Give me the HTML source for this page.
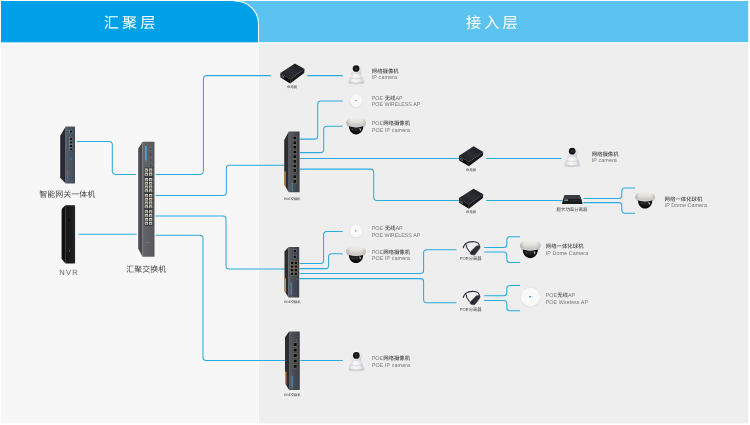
<!DOCTYPE html>
<html lang="zh-CN">
<head>
<meta charset="utf-8">
<title>网络拓扑图 - 汇聚层 / 接入层</title>
<style>
html,body{margin:0;padding:0;background:#ffffff;}
body{width:750px;height:425px;overflow:hidden;font-family:"Liberation Sans",sans-serif;}
svg{display:block;position:absolute;left:0;top:0;will-change:transform;}
text{font-family:"Liberation Sans",sans-serif;text-rendering:geometricPrecision;}
text.cjk{font-family:"Liberation Sans","Noto Sans CJK SC",sans-serif;}
</style>
</head>
<body>
<svg width="750" height="425" viewBox="0 0 750 425" font-family="'Liberation Sans', sans-serif">
<defs>
<linearGradient id="gfront" x1="0" x2="1" y1="0" y2="0"><stop offset="0" stop-color="#545e6a"/><stop offset="1" stop-color="#434c57"/></linearGradient>
<linearGradient id="nfront" x1="0" x2="1" y1="0" y2="0"><stop offset="0" stop-color="#161617"/><stop offset=".8" stop-color="#1e1e20"/><stop offset="1" stop-color="#2c2c2e"/></linearGradient>
<linearGradient id="cfront" x1="0" x2="1" y1="0" y2="0"><stop offset="0" stop-color="#64666b"/><stop offset="1" stop-color="#55575c"/></linearGradient>
<linearGradient id="pfront" x1="0" x2="1" y1="0" y2="0"><stop offset="0" stop-color="#5b5e64"/><stop offset=".35" stop-color="#4c4f55"/><stop offset="1" stop-color="#3c3f45"/></linearGradient>
<linearGradient id="atop" x1="0" x2="1" y1="1" y2="0"><stop offset="0" stop-color="#1a1c1f"/><stop offset=".5" stop-color="#2b2e33"/><stop offset="1" stop-color="#15171a"/></linearGradient>
<linearGradient id="camb" x1="0" x2="1" y1="0" y2="0"><stop offset="0" stop-color="#d3d3d7"/><stop offset=".35" stop-color="#f8f8fa"/><stop offset=".7" stop-color="#ececef"/><stop offset="1" stop-color="#cacace"/></linearGradient>
<radialGradient id="camh" cx=".4" cy=".35" r=".75"><stop offset="0" stop-color="#fbfbfc"/><stop offset=".68" stop-color="#e9e9ec"/><stop offset="1" stop-color="#bebec4"/></radialGradient>
<linearGradient id="domw" x1="0" x2="0" y1="0" y2="1"><stop offset="0" stop-color="#efeeea"/><stop offset=".45" stop-color="#e2e1dc"/><stop offset="1" stop-color="#bcbbb6"/></linearGradient>
<linearGradient id="domx" x1="0" x2="1" y1="0" y2="0"><stop offset="0" stop-color="#555" stop-opacity=".28"/><stop offset=".22" stop-color="#555" stop-opacity="0"/><stop offset=".8" stop-color="#555" stop-opacity="0"/><stop offset="1" stop-color="#555" stop-opacity=".22"/></linearGradient>
<radialGradient id="domb" cx=".5" cy=".3" r=".8"><stop offset="0" stop-color="#2a2c30"/><stop offset=".6" stop-color="#0c0d0f"/><stop offset="1" stop-color="#000"/></radialGradient>
<radialGradient id="apr" cx=".5" cy=".5" r=".5"><stop offset="0" stop-color="#d4d4d3"/><stop offset=".88" stop-color="#d6d6d5"/><stop offset="1" stop-color="#e6e6e5"/></radialGradient>
<radialGradient id="apg" cx=".5" cy=".45" r=".6"><stop offset="0" stop-color="#fbfbfa"/><stop offset=".8" stop-color="#f7f7f6"/><stop offset="1" stop-color="#ececeb"/></radialGradient>
</defs>
<rect x="1" y="1" width="747.2" height="41.2" fill="#5cc3f0"/>
<rect x="1" y="43.6" width="257.5" height="379.8" fill="#f7f7f7"/>
<rect x="259" y="43.6" width="489.2" height="379.8" fill="#eeeeee"/>
<path d="M1,1 H235.5 A23,23 0 0 1 258.5,24 V42.2 H1 Z" fill="#00a0e9"/>
<path d="M234,1 H235.5 A23,23 0 0 1 258.5,24 V423.5" fill="none" stroke="#fff" stroke-width="1.1"/>
<g role="img" aria-label="汇聚层"><title>汇聚层</title><text class="cjk" transform="translate(103.76 27.53) scale(.1)" font-size="152" fill="#ffffff" x="0 182 364" y="0">汇聚层</text></g>
<g role="img" aria-label="接入层"><title>接入层</title><text class="cjk" transform="translate(466.07 27.70) scale(.1)" font-size="152" fill="#ffffff" x="0 182 364" y="0">接入层</text></g>
<g fill="none" stroke="#29abe2" stroke-width="1.05"><path d="M76.90,141.40 L109.10,141.40 A3.20,3.20 0 0 1 112.30,144.60 L112.30,171.20 A3.20,3.20 0 0 0 115.50,174.40 L135.90,174.40"/><path d="M78.40,234.20 L136.60,234.20"/><path d="M155.60,174.40 L199.90,174.40 A3.50,3.50 0 0 0 203.40,170.90 L203.40,79.10 A3.50,3.50 0 0 1 206.90,75.60 L270.70,75.60"/><path d="M155.60,195.50 L223.10,195.50 A3.20,3.20 0 0 0 226.30,192.30 L226.30,168.40 A3.20,3.20 0 0 1 229.50,165.20 L284.20,165.20"/><path d="M155.60,215.90 L222.80,215.90 A3.20,3.20 0 0 1 226.00,219.10 L226.00,265.70 A3.20,3.20 0 0 0 229.20,268.90 L284.60,268.90"/><path d="M155.60,235.30 L199.80,235.30 A3.20,3.20 0 0 1 203.00,238.50 L203.00,357.20 A3.20,3.20 0 0 0 206.20,360.40 L285.00,360.40"/><path d="M307.20,75.60 L342.80,75.60"/><path d="M299.80,139.10 L314.50,139.10 A3.20,3.20 0 0 0 317.70,135.90 L317.70,104.10 A3.20,3.20 0 0 1 320.90,100.90 L342.70,100.90"/><path d="M299.80,152.60 L320.50,152.60 A3.20,3.20 0 0 0 323.70,149.40 L323.70,129.50 A3.20,3.20 0 0 1 326.90,126.30 L342.70,126.30"/><path d="M299.80,158.40 L458.80,158.40"/><path d="M486.20,158.50 L561.50,158.50"/><path d="M299.80,169.10 L370.50,169.10 A3.20,3.20 0 0 1 373.70,172.30 L373.70,197.30 A3.20,3.20 0 0 0 376.90,200.50 L458.80,200.50"/><path d="M486.20,200.50 L562.20,200.50"/><path d="M583.40,198.40 L618.80,198.40 A3.00,3.00 0 0 0 621.80,195.40 L621.80,191.00 A3.00,3.00 0 0 1 624.80,188.00 L635.00,188.00"/><path d="M583.40,202.60 L618.80,202.60 A3.00,3.00 0 0 1 621.80,205.60 L621.80,210.30 A3.00,3.00 0 0 0 624.80,213.30 L635.00,213.30"/><path d="M299.60,263.40 L320.40,263.40 A3.20,3.20 0 0 0 323.60,260.20 L323.60,234.70 A3.20,3.20 0 0 1 326.80,231.50 L342.60,231.50"/><path d="M299.60,268.60 L325.40,268.60 A3.20,3.20 0 0 0 328.60,265.40 L328.60,257.00 A3.20,3.20 0 0 1 331.80,253.80 L342.60,253.80"/><path d="M299.60,273.40 L420.40,273.40 A3.20,3.20 0 0 0 423.60,270.20 L423.60,253.00 A3.20,3.20 0 0 1 426.80,249.80 L456.50,249.80"/><path d="M299.60,278.60 L420.40,278.60 A3.20,3.20 0 0 1 423.60,281.80 L423.60,299.50 A3.20,3.20 0 0 0 426.80,302.70 L456.50,302.70"/><path d="M484.10,247.40 L503.80,247.40 A3.00,3.00 0 0 0 506.80,244.40 L506.80,239.80 A3.00,3.00 0 0 1 509.80,236.80 L520.10,236.80"/><path d="M484.10,252.00 L503.80,252.00 A3.00,3.00 0 0 1 506.80,255.00 L506.80,259.40 A3.00,3.00 0 0 0 509.80,262.40 L520.10,262.40"/><path d="M484.10,295.80 L503.80,295.80 A3.00,3.00 0 0 0 506.80,292.80 L506.80,288.50 A3.00,3.00 0 0 1 509.80,285.50 L520.10,285.50"/><path d="M484.10,300.50 L503.80,300.50 A3.00,3.00 0 0 1 506.80,303.50 L506.80,307.70 A3.00,3.00 0 0 0 509.80,310.70 L520.10,310.70"/><path d="M300.20,360.40 L342.80,360.40"/></g>
<polygon points="65.7,126.6 60.2,135.8 60.2,177.7 65.7,183.4" fill="#272b31"/><rect x="65.6" y="126.6" width="9.4" height="56.8" rx=".6" fill="url(#gfront)"/><rect x="69.75" y="130.15" width="2.90" height="2.70" fill="#111316" stroke="#9299a3" stroke-width=".45"/><rect x="69.75" y="137.65" width="2.90" height="2.70" fill="#111316" stroke="#9299a3" stroke-width=".45"/><rect x="69.75" y="141.15" width="2.90" height="2.70" fill="#111316" stroke="#9299a3" stroke-width=".45"/><rect x="69.75" y="144.65" width="2.90" height="2.70" fill="#111316" stroke="#9299a3" stroke-width=".45"/><rect x="69.75" y="148.05" width="2.90" height="2.70" fill="#111316" stroke="#9299a3" stroke-width=".45"/><rect x="70.1" y="158.4" width="2.2" height="1.1" fill="#1c7fe0"/><rect x="67" y="170" width="1" height="10.5" fill="#3b7cc0" opacity=".75"/>
<path d="M65.4,205.3 L62.6,208 Q61.6,209 61.6,210.5 V258.8 L65.4,263.6 Z" fill="#101011"/><rect x="65.3" y="205.3" width="9.8" height="58.3" rx=".8" fill="url(#nfront)"/><circle cx="69.2" cy="220" r=".8" fill="#000"/><rect x="69" y="250" width=".6" height="1.6" fill="#999"/>
<polygon points="142.5,141.8 138.2,148.8 138.2,248.5 142.5,256.7" fill="#494b4f"/><rect x="142.4" y="141.8" width="12.1" height="114.9" rx=".5" fill="url(#cfront)"/><rect x="145" y="146" width="1.7" height="14.4" fill="#3ba7e0"/><rect x="149.2" y="147.2" width="2.7" height="3.3" fill="#46484d" stroke="#7c7e83" stroke-width=".4"/><rect x="149.2" y="152.9" width="2.7" height="3.3" fill="#46484d" stroke="#7c7e83" stroke-width=".4"/><rect x="149.2" y="158.4" width="2.7" height="3.3" fill="#46484d" stroke="#7c7e83" stroke-width=".4"/><rect x="149.2" y="163.8" width="2.7" height="3.3" fill="#46484d" stroke="#7c7e83" stroke-width=".4"/><rect x="144.2" y="167.6" width="8.6" height="9.0" fill="#26282b"/><rect x="144.75" y="168.41" width="3.3" height="3.28" fill="#d3cfc2"/><rect x="145.65" y="169.64" width="1.5" height="1.64" fill="#4a4a46"/><rect x="148.95" y="168.41" width="3.3" height="3.28" fill="#d3cfc2"/><rect x="149.85" y="169.64" width="1.5" height="1.64" fill="#4a4a46"/><rect x="144.75" y="172.51" width="3.3" height="3.28" fill="#d3cfc2"/><rect x="145.65" y="173.74" width="1.5" height="1.64" fill="#4a4a46"/><rect x="148.95" y="172.51" width="3.3" height="3.28" fill="#d3cfc2"/><rect x="149.85" y="173.74" width="1.5" height="1.64" fill="#4a4a46"/><rect x="144.2" y="177.2" width="8.6" height="15.8" fill="#26282b"/><rect x="144.75" y="177.97" width="3.3" height="3.00" fill="#d3cfc2"/><rect x="145.65" y="179.10" width="1.5" height="1.50" fill="#4a4a46"/><rect x="148.95" y="177.97" width="3.3" height="3.00" fill="#d3cfc2"/><rect x="149.85" y="179.10" width="1.5" height="1.50" fill="#4a4a46"/><rect x="144.75" y="181.72" width="3.3" height="3.00" fill="#d3cfc2"/><rect x="145.65" y="182.85" width="1.5" height="1.50" fill="#4a4a46"/><rect x="148.95" y="181.72" width="3.3" height="3.00" fill="#d3cfc2"/><rect x="149.85" y="182.85" width="1.5" height="1.50" fill="#4a4a46"/><rect x="144.75" y="185.47" width="3.3" height="3.00" fill="#d3cfc2"/><rect x="145.65" y="186.60" width="1.5" height="1.50" fill="#4a4a46"/><rect x="148.95" y="185.47" width="3.3" height="3.00" fill="#d3cfc2"/><rect x="149.85" y="186.60" width="1.5" height="1.50" fill="#4a4a46"/><rect x="144.75" y="189.22" width="3.3" height="3.00" fill="#d3cfc2"/><rect x="145.65" y="190.35" width="1.5" height="1.50" fill="#4a4a46"/><rect x="148.95" y="189.22" width="3.3" height="3.00" fill="#d3cfc2"/><rect x="149.85" y="190.35" width="1.5" height="1.50" fill="#4a4a46"/><rect x="144.2" y="193.2" width="8.6" height="15.8" fill="#26282b"/><rect x="144.75" y="193.97" width="3.3" height="3.00" fill="#d3cfc2"/><rect x="145.65" y="195.10" width="1.5" height="1.50" fill="#4a4a46"/><rect x="148.95" y="193.97" width="3.3" height="3.00" fill="#d3cfc2"/><rect x="149.85" y="195.10" width="1.5" height="1.50" fill="#4a4a46"/><rect x="144.75" y="197.72" width="3.3" height="3.00" fill="#d3cfc2"/><rect x="145.65" y="198.85" width="1.5" height="1.50" fill="#4a4a46"/><rect x="148.95" y="197.72" width="3.3" height="3.00" fill="#d3cfc2"/><rect x="149.85" y="198.85" width="1.5" height="1.50" fill="#4a4a46"/><rect x="144.75" y="201.47" width="3.3" height="3.00" fill="#d3cfc2"/><rect x="145.65" y="202.60" width="1.5" height="1.50" fill="#4a4a46"/><rect x="148.95" y="201.47" width="3.3" height="3.00" fill="#d3cfc2"/><rect x="149.85" y="202.60" width="1.5" height="1.50" fill="#4a4a46"/><rect x="144.75" y="205.22" width="3.3" height="3.00" fill="#d3cfc2"/><rect x="145.65" y="206.35" width="1.5" height="1.50" fill="#4a4a46"/><rect x="148.95" y="205.22" width="3.3" height="3.00" fill="#d3cfc2"/><rect x="149.85" y="206.35" width="1.5" height="1.50" fill="#4a4a46"/><rect x="144.2" y="209.4" width="8.6" height="16.2" fill="#26282b"/><rect x="144.75" y="210.19" width="3.3" height="3.08" fill="#d3cfc2"/><rect x="145.65" y="211.34" width="1.5" height="1.54" fill="#4a4a46"/><rect x="148.95" y="210.19" width="3.3" height="3.08" fill="#d3cfc2"/><rect x="149.85" y="211.34" width="1.5" height="1.54" fill="#4a4a46"/><rect x="144.75" y="214.03" width="3.3" height="3.08" fill="#d3cfc2"/><rect x="145.65" y="215.19" width="1.5" height="1.54" fill="#4a4a46"/><rect x="148.95" y="214.03" width="3.3" height="3.08" fill="#d3cfc2"/><rect x="149.85" y="215.19" width="1.5" height="1.54" fill="#4a4a46"/><rect x="144.75" y="217.89" width="3.3" height="3.08" fill="#d3cfc2"/><rect x="145.65" y="219.04" width="1.5" height="1.54" fill="#4a4a46"/><rect x="148.95" y="217.89" width="3.3" height="3.08" fill="#d3cfc2"/><rect x="149.85" y="219.04" width="1.5" height="1.54" fill="#4a4a46"/><rect x="144.75" y="221.73" width="3.3" height="3.08" fill="#d3cfc2"/><rect x="145.65" y="222.89" width="1.5" height="1.54" fill="#4a4a46"/><rect x="148.95" y="221.73" width="3.3" height="3.08" fill="#d3cfc2"/><rect x="149.85" y="222.89" width="1.5" height="1.54" fill="#4a4a46"/><rect x="146" y="242.5" width="5" height=".5" fill="#8a9098" opacity=".6"/>
<polygon points="288.8,131.6 284.2,140.0 284.2,184.4 288.8,192.2" fill="#2c2d30"/><polygon points="284.4,171.4 285.6,171.4 285.6,186.8 284.4,184.7" fill="#dda045"/><rect x="288.7" y="131.6" width="10.9" height="60.6" rx=".5" fill="url(#pfront)"/><rect x="292.95" y="136.20" width="3.70" height="3.60" fill="#857f66"/><rect x="293.40" y="136.65" width="2.80" height="2.70" fill="#0b0b0c"/><rect x="292.95" y="140.90" width="3.70" height="3.60" fill="#857f66"/><rect x="293.40" y="141.35" width="2.80" height="2.70" fill="#0b0b0c"/><rect x="292.95" y="145.40" width="3.70" height="3.60" fill="#857f66"/><rect x="293.40" y="145.85" width="2.80" height="2.70" fill="#0b0b0c"/><rect x="292.95" y="150.30" width="3.70" height="3.60" fill="#857f66"/><rect x="293.40" y="150.75" width="2.80" height="2.70" fill="#0b0b0c"/><rect x="292.95" y="154.80" width="3.70" height="3.60" fill="#857f66"/><rect x="293.40" y="155.25" width="2.80" height="2.70" fill="#0b0b0c"/><rect x="292.95" y="159.60" width="3.70" height="3.60" fill="#857f66"/><rect x="293.40" y="160.05" width="2.80" height="2.70" fill="#0b0b0c"/><rect x="292.95" y="164.20" width="3.70" height="3.60" fill="#857f66"/><rect x="293.40" y="164.65" width="2.80" height="2.70" fill="#0b0b0c"/><rect x="292.95" y="168.70" width="3.70" height="3.60" fill="#857f66"/><rect x="293.40" y="169.15" width="2.80" height="2.70" fill="#0b0b0c"/><rect x="292.95" y="174.80" width="3.70" height="3.60" fill="#857f66"/><rect x="293.40" y="175.25" width="2.80" height="2.70" fill="#0b0b0c"/><rect x="292.95" y="179.60" width="3.70" height="3.60" fill="#857f66"/><rect x="293.40" y="180.05" width="2.80" height="2.70" fill="#0b0b0c"/><rect x="291.6" y="182.6" width="1.2" height="8" fill="#3d8fc8" opacity=".85"/><circle cx="296.1" cy="185.3" r=".4" fill="#222"/>
<polygon points="288.6,247.1 284.5,251.6 284.5,291.0 288.6,297.5" fill="#2c2d30"/><polygon points="284.7,278.3 285.9,278.3 285.9,293.2 284.7,291.3" fill="#dda045"/><rect x="288.5" y="247.1" width="10.7" height="50.4" rx=".5" fill="url(#pfront)"/><rect x="293.3" y="249.5" width="3" height="3" fill="#121315" stroke="#8b8f96" stroke-width=".4"/><rect x="293.3" y="255.2" width="3" height="3" fill="#121315" stroke="#8b8f96" stroke-width=".4"/><rect x="290.40" y="261.40" width="3.40" height="3.20" fill="#857f66"/><rect x="290.85" y="261.85" width="2.50" height="2.30" fill="#0b0b0c"/><rect x="294.20" y="261.40" width="3.40" height="3.20" fill="#857f66"/><rect x="294.65" y="261.85" width="2.50" height="2.30" fill="#0b0b0c"/><rect x="290.40" y="264.90" width="3.40" height="3.20" fill="#857f66"/><rect x="290.85" y="265.35" width="2.50" height="2.30" fill="#0b0b0c"/><rect x="294.20" y="264.90" width="3.40" height="3.20" fill="#857f66"/><rect x="294.65" y="265.35" width="2.50" height="2.30" fill="#0b0b0c"/><rect x="290.40" y="268.50" width="3.40" height="3.20" fill="#857f66"/><rect x="290.85" y="268.95" width="2.50" height="2.30" fill="#0b0b0c"/><rect x="294.20" y="268.50" width="3.40" height="3.20" fill="#857f66"/><rect x="294.65" y="268.95" width="2.50" height="2.30" fill="#0b0b0c"/><rect x="290.40" y="272.20" width="3.40" height="3.20" fill="#857f66"/><rect x="290.85" y="272.65" width="2.50" height="2.30" fill="#0b0b0c"/><rect x="294.20" y="272.20" width="3.40" height="3.20" fill="#857f66"/><rect x="294.65" y="272.65" width="2.50" height="2.30" fill="#0b0b0c"/><circle cx="297" cy="279" r=".4" fill="#ddd"/><rect x="290.5" y="282.8" width="1.4" height="12.6" fill="#3d8fc8" opacity=".85"/>
<polygon points="289.1,331.6 285.0,337.2 285.0,383.2 289.1,389.9" fill="#2c2d30"/><polygon points="285.2,371.7 286.4,371.7 286.4,385.5 285.2,383.5" fill="#dda045"/><rect x="289.0" y="331.6" width="10.8" height="58.3" rx=".5" fill="url(#pfront)"/><rect x="293.20" y="342.55" width="4.00" height="3.90" fill="#857f66"/><rect x="293.65" y="343.00" width="3.10" height="3.00" fill="#0b0b0c"/><rect x="293.20" y="348.15" width="4.00" height="3.90" fill="#857f66"/><rect x="293.65" y="348.60" width="3.10" height="3.00" fill="#0b0b0c"/><rect x="293.20" y="353.65" width="4.00" height="3.90" fill="#857f66"/><rect x="293.65" y="354.10" width="3.10" height="3.00" fill="#0b0b0c"/><rect x="293.20" y="359.05" width="4.00" height="3.90" fill="#857f66"/><rect x="293.65" y="359.50" width="3.10" height="3.00" fill="#0b0b0c"/><rect x="293.20" y="364.35" width="4.00" height="3.90" fill="#857f66"/><rect x="293.65" y="364.80" width="3.10" height="3.00" fill="#0b0b0c"/><circle cx="296.5" cy="339.9" r=".4" fill="#ddd"/><rect x="291.4" y="375.8" width="1.4" height="11.5" fill="#3d8fc8" opacity=".85"/>
<polygon points="280.3,72.9 294.9,63.5 304.6,69.1 290.2,79.3" fill="url(#atop)"/><polygon points="280.3,72.9 290.2,79.3 290.2,83.5 280.5,77.6" fill="#0c0d0f"/><polygon points="290.2,79.3 304.6,69.1 304.2,72.9 290.2,83.5" fill="#16181b"/><polygon points="281.7,75.1 284.2,76.7 284.2,78.5 281.7,77.0" fill="#8d9399"/><polygon points="282.2,75.9 283.7,76.9 283.7,77.9 282.2,76.9" fill="#1b1d20"/>
<polygon points="459.0,155.7 473.6,146.3 483.3,151.9 468.9,162.1" fill="url(#atop)"/><polygon points="459.0,155.7 468.9,162.1 468.9,166.3 459.2,160.4" fill="#0c0d0f"/><polygon points="468.9,162.1 483.3,151.9 482.9,155.7 468.9,166.3" fill="#16181b"/><polygon points="460.4,157.9 462.9,159.5 462.9,161.3 460.4,159.8" fill="#8d9399"/><polygon points="460.9,158.7 462.4,159.7 462.4,160.7 460.9,159.7" fill="#1b1d20"/>
<polygon points="459.0,198.1 473.6,188.7 483.3,194.3 468.9,204.5" fill="url(#atop)"/><polygon points="459.0,198.1 468.9,204.5 468.9,208.7 459.2,202.8" fill="#0c0d0f"/><polygon points="468.9,204.5 483.3,194.3 482.9,198.1 468.9,208.7" fill="#16181b"/><polygon points="460.4,200.3 462.9,201.9 462.9,203.7 460.4,202.2" fill="#8d9399"/><polygon points="460.9,201.1 462.4,202.1 462.4,203.1 460.9,202.1" fill="#1b1d20"/>
<g transform="translate(356.20 68.70)"><ellipse cx="0" cy="14.5" rx="8.4" ry="1.2" fill="#000" opacity=".10"/><path d="M-4.6,3 L-4.9,8 L4.9,8 L4.6,3 Z" fill="url(#camb)"/><path d="M-6.5,9 C-6.5,7.6 -5.4,6.9 -3.8,6.9 L3.8,6.9 C5.4,6.9 6.5,7.6 6.5,9 C6.9,10.6 7.8,12.4 7.7,13.7 Q0,15.6 -7.7,13.7 C-7.8,12.4 -6.9,10.6 -6.5,9 Z" fill="url(#camb)"/><path d="M-6.6,9.3 Q0,10.9 6.6,9.3" fill="none" stroke="#bfbfc6" stroke-width=".5"/><path d="M-7.6,13.5 Q0,15.5 7.6,13.5" fill="none" stroke="#b5b5bc" stroke-width=".6"/><circle cx="0" cy="0" r="5.5" fill="url(#camh)"/><circle cx="-.1" cy="-.2" r="3.35" fill="#141416"/><circle cx="-.1" cy="-.2" r="1.3" fill="#30333a"/></g>
<g transform="translate(572.30 151.40)"><ellipse cx="0" cy="14.5" rx="8.4" ry="1.2" fill="#000" opacity=".10"/><path d="M-4.6,3 L-4.9,8 L4.9,8 L4.6,3 Z" fill="url(#camb)"/><path d="M-6.5,9 C-6.5,7.6 -5.4,6.9 -3.8,6.9 L3.8,6.9 C5.4,6.9 6.5,7.6 6.5,9 C6.9,10.6 7.8,12.4 7.7,13.7 Q0,15.6 -7.7,13.7 C-7.8,12.4 -6.9,10.6 -6.5,9 Z" fill="url(#camb)"/><path d="M-6.6,9.3 Q0,10.9 6.6,9.3" fill="none" stroke="#bfbfc6" stroke-width=".5"/><path d="M-7.6,13.5 Q0,15.5 7.6,13.5" fill="none" stroke="#b5b5bc" stroke-width=".6"/><circle cx="0" cy="0" r="5.5" fill="url(#camh)"/><circle cx="-.1" cy="-.2" r="3.35" fill="#141416"/><circle cx="-.1" cy="-.2" r="1.3" fill="#30333a"/></g>
<g transform="translate(356.40 355.60)"><ellipse cx="0" cy="14.5" rx="8.4" ry="1.2" fill="#000" opacity=".10"/><path d="M-4.6,3 L-4.9,8 L4.9,8 L4.6,3 Z" fill="url(#camb)"/><path d="M-6.5,9 C-6.5,7.6 -5.4,6.9 -3.8,6.9 L3.8,6.9 C5.4,6.9 6.5,7.6 6.5,9 C6.9,10.6 7.8,12.4 7.7,13.7 Q0,15.6 -7.7,13.7 C-7.8,12.4 -6.9,10.6 -6.5,9 Z" fill="url(#camb)"/><path d="M-6.6,9.3 Q0,10.9 6.6,9.3" fill="none" stroke="#bfbfc6" stroke-width=".5"/><path d="M-7.6,13.5 Q0,15.5 7.6,13.5" fill="none" stroke="#b5b5bc" stroke-width=".6"/><circle cx="0" cy="0" r="5.5" fill="url(#camh)"/><circle cx="-.1" cy="-.2" r="3.35" fill="#141416"/><circle cx="-.1" cy="-.2" r="1.3" fill="#30333a"/></g>
<g transform="translate(346.30 117.60) scale(1.000)"><path d="M0,4.7 C0,1.7 4.6,0 9.85,0 S19.7,1.7 19.7,4.7 C19.7,7.3 18.5,9 16.7,9.5 L3,9.5 C1.2,9 0,7.3 0,4.7 Z" fill="url(#domw)"/><path d="M0,4.7 C0,1.7 4.6,0 9.85,0 S19.7,1.7 19.7,4.7 C19.7,7.3 18.5,9 16.7,9.5 L3,9.5 C1.2,9 0,7.3 0,4.7 Z" fill="url(#domx)"/><path d="M2.7,8.7 C2.7,13.4 5.8,16.9 9.85,16.9 C13.9,16.9 17,13.4 17,8.7 Q9.85,10.9 2.7,8.7 Z" fill="url(#domb)"/><path d="M13.1,10.3 Q15.3,10.6 14.3,13.4 Q13.2,12.2 13.1,10.3 Z" fill="#fff" opacity=".8"/><path d="M5.4,11 Q6.4,10.8 6.7,12.6 Q5.6,12.4 5.4,11 Z" fill="#fff" opacity=".45"/><path d="M1,7.6 Q9.85,10.6 18.7,7.6" fill="none" stroke="#fff" stroke-width=".5" opacity=".45"/></g>
<g transform="translate(346.20 246.20) scale(1.000)"><path d="M0,4.7 C0,1.7 4.6,0 9.85,0 S19.7,1.7 19.7,4.7 C19.7,7.3 18.5,9 16.7,9.5 L3,9.5 C1.2,9 0,7.3 0,4.7 Z" fill="url(#domw)"/><path d="M0,4.7 C0,1.7 4.6,0 9.85,0 S19.7,1.7 19.7,4.7 C19.7,7.3 18.5,9 16.7,9.5 L3,9.5 C1.2,9 0,7.3 0,4.7 Z" fill="url(#domx)"/><path d="M2.7,8.7 C2.7,13.4 5.8,16.9 9.85,16.9 C13.9,16.9 17,13.4 17,8.7 Q9.85,10.9 2.7,8.7 Z" fill="url(#domb)"/><path d="M13.1,10.3 Q15.3,10.6 14.3,13.4 Q13.2,12.2 13.1,10.3 Z" fill="#fff" opacity=".8"/><path d="M5.4,11 Q6.4,10.8 6.7,12.6 Q5.6,12.4 5.4,11 Z" fill="#fff" opacity=".45"/><path d="M1,7.6 Q9.85,10.6 18.7,7.6" fill="none" stroke="#fff" stroke-width=".5" opacity=".45"/></g>
<g transform="translate(635.30 191.70) scale(1.000)"><path d="M0,4.7 C0,1.7 4.6,0 9.85,0 S19.7,1.7 19.7,4.7 C19.7,7.3 18.5,9 16.7,9.5 L3,9.5 C1.2,9 0,7.3 0,4.7 Z" fill="url(#domw)"/><path d="M0,4.7 C0,1.7 4.6,0 9.85,0 S19.7,1.7 19.7,4.7 C19.7,7.3 18.5,9 16.7,9.5 L3,9.5 C1.2,9 0,7.3 0,4.7 Z" fill="url(#domx)"/><path d="M2.7,8.7 C2.7,13.4 5.8,16.9 9.85,16.9 C13.9,16.9 17,13.4 17,8.7 Q9.85,10.9 2.7,8.7 Z" fill="url(#domb)"/><path d="M13.1,10.3 Q15.3,10.6 14.3,13.4 Q13.2,12.2 13.1,10.3 Z" fill="#fff" opacity=".8"/><path d="M5.4,11 Q6.4,10.8 6.7,12.6 Q5.6,12.4 5.4,11 Z" fill="#fff" opacity=".45"/><path d="M1,7.6 Q9.85,10.6 18.7,7.6" fill="none" stroke="#fff" stroke-width=".5" opacity=".45"/></g>
<g transform="translate(519.90 240.30) scale(1.055)"><path d="M0,4.7 C0,1.7 4.6,0 9.85,0 S19.7,1.7 19.7,4.7 C19.7,7.3 18.5,9 16.7,9.5 L3,9.5 C1.2,9 0,7.3 0,4.7 Z" fill="url(#domw)"/><path d="M0,4.7 C0,1.7 4.6,0 9.85,0 S19.7,1.7 19.7,4.7 C19.7,7.3 18.5,9 16.7,9.5 L3,9.5 C1.2,9 0,7.3 0,4.7 Z" fill="url(#domx)"/><path d="M2.7,8.7 C2.7,13.4 5.8,16.9 9.85,16.9 C13.9,16.9 17,13.4 17,8.7 Q9.85,10.9 2.7,8.7 Z" fill="url(#domb)"/><path d="M13.1,10.3 Q15.3,10.6 14.3,13.4 Q13.2,12.2 13.1,10.3 Z" fill="#fff" opacity=".8"/><path d="M5.4,11 Q6.4,10.8 6.7,12.6 Q5.6,12.4 5.4,11 Z" fill="#fff" opacity=".45"/><path d="M1,7.6 Q9.85,10.6 18.7,7.6" fill="none" stroke="#fff" stroke-width=".5" opacity=".45"/></g>
<circle cx="356.1" cy="100.9" r="7.20" fill="url(#apr)"/><circle cx="356.2" cy="100.7" r="6.60" fill="url(#apg)"/><ellipse cx="355.9" cy="100.3" rx="0.78" ry="0.65" fill="#2a78b4"/><rect x="356.9" y="100.2" width="1.5" height=".35" fill="#c9cccf"/>
<circle cx="356.0" cy="231.4" r="7.20" fill="url(#apr)"/><circle cx="356.1" cy="231.2" r="6.60" fill="url(#apg)"/><ellipse cx="355.8" cy="230.8" rx="0.78" ry="0.65" fill="#2a78b4"/><rect x="356.8" y="230.6" width="1.5" height=".35" fill="#c9cccf"/>
<circle cx="530.3" cy="297.4" r="10.30" fill="url(#apr)"/><circle cx="530.4" cy="297.2" r="9.70" fill="url(#apg)"/><ellipse cx="530.1" cy="296.8" rx="1.00" ry="0.80" fill="#2a78b4"/><rect x="531.1" y="296.6" width="2.2" height=".35" fill="#c9cccf"/>
<polygon points="564.5,194.9 579.7,194.9 581.4,199 563.1,199" fill="#383b3f"/><polygon points="563.1,199 581.4,199 582.6,203.9 561.9,203.9" fill="#1b1c1e"/><rect x="564.3" y="199.4" width="3.8" height="1.5" fill="#8d9196"/><rect x="570" y="200.3" width="9.5" height=".9" fill="#2c2e31"/>
<g transform="translate(0.0 0.5)"><path d="M479.3,245.4 C479.6,243.2 477.6,241.5 474.6,241.2 C471.4,240.9 467.8,241.5 465.6,243.1 C464.4,244.1 463.8,245.4 463.4,246.8" fill="none" stroke="#2b2e33" stroke-width="1.1"/><path d="M465.7,243.2 C466,245.6 467.4,248.8 469.6,251.4" fill="none" stroke="#2b2e33" stroke-width="1.1"/><path d="M463,245.6 L464.2,246 L463.8,247.8 L462.7,247.4 Z" fill="#3a3d42"/><path d="M470.2,251.6 L476.2,245.7 Q476.8,245.2 477.6,245.2 L479.2,245.2 Q480,245.3 480,246.2 L479.8,247.8 L474.9,254.2 Q474.4,254.7 473.6,254.5 L470.9,253.9 Q469.6,253.2 470.2,251.6 Z" fill="#2c3036" stroke="#2c3036" stroke-width=".5" stroke-linejoin="round"/><rect x="471.4" y="251.6" width="1.4" height="1.2" fill="#0d0e10" transform="rotate(-40 472 252)"/></g>
<g transform="translate(0.0 50.3)"><path d="M479.3,245.4 C479.6,243.2 477.6,241.5 474.6,241.2 C471.4,240.9 467.8,241.5 465.6,243.1 C464.4,244.1 463.8,245.4 463.4,246.8" fill="none" stroke="#2b2e33" stroke-width="1.1"/><path d="M465.7,243.2 C466,245.6 467.4,248.8 469.6,251.4" fill="none" stroke="#2b2e33" stroke-width="1.1"/><path d="M463,245.6 L464.2,246 L463.8,247.8 L462.7,247.4 Z" fill="#3a3d42"/><path d="M470.2,251.6 L476.2,245.7 Q476.8,245.2 477.6,245.2 L479.2,245.2 Q480,245.3 480,246.2 L479.8,247.8 L474.9,254.2 Q474.4,254.7 473.6,254.5 L470.9,253.9 Q469.6,253.2 470.2,251.6 Z" fill="#2c3036" stroke="#2c3036" stroke-width=".5" stroke-linejoin="round"/><rect x="471.4" y="251.6" width="1.4" height="1.2" fill="#0d0e10" transform="rotate(-40 472 252)"/></g>
<g role="img" aria-label="智能网关一体机"><title>智能网关一体机</title><text class="cjk" transform="translate(39.28 197.05) scale(.1)" font-size="80" fill="#444444" x="0 80 160 240 320 400 480" y="0">智能网关一体机</text></g>
<g role="img" aria-label="汇聚交换机"><title>汇聚交换机</title><text class="cjk" transform="translate(126.26 272.24) scale(.1)" font-size="80" fill="#444444" x="0 80 160 240 320" y="0">汇聚交换机</text></g>
<g role="img" aria-label="NVR"><title>NVR</title><text transform="translate(59.28 275.11) scale(.1)" font-size="76.0" fill="#666666" x="0.0 66.9 129.6" y="0" xml:space="preserve">NVR</text></g>
<g role="img" aria-label="供电器"><title>供电器</title><text class="cjk" transform="translate(287.33 87.81) scale(.1)" font-size="32" fill="#2e2e2e" x="0 32 64" y="0">供电器</text></g>
<g role="img" aria-label="供电器"><title>供电器</title><text class="cjk" transform="translate(466.23 170.71) scale(.1)" font-size="32" fill="#2e2e2e" x="0 32 64" y="0">供电器</text></g>
<g role="img" aria-label="供电器"><title>供电器</title><text class="cjk" transform="translate(466.23 213.01) scale(.1)" font-size="32" fill="#2e2e2e" x="0 32 64" y="0">供电器</text></g>
<g role="img" aria-label="POE交换机"><title>POE交换机</title><text transform="translate(283.94 199.63) scale(.1)" font-size="32.0" fill="#2e2e2e" x="0.0 21.3 46.2" y="0" xml:space="preserve">POE</text><text class="cjk" transform="translate(290.70 199.63) scale(.1)" font-size="32" fill="#2e2e2e" x="0 32 64" y="0">交换机</text></g>
<g role="img" aria-label="POE交换机"><title>POE交换机</title><text transform="translate(284.14 303.43) scale(.1)" font-size="32.0" fill="#2e2e2e" x="0.0 21.3 46.2" y="0" xml:space="preserve">POE</text><text class="cjk" transform="translate(290.90 303.43) scale(.1)" font-size="32" fill="#2e2e2e" x="0 32 64" y="0">交换机</text></g>
<g role="img" aria-label="POE交换机"><title>POE交换机</title><text transform="translate(284.14 396.43) scale(.1)" font-size="32.0" fill="#2e2e2e" x="0.0 21.3 46.2" y="0" xml:space="preserve">POE</text><text class="cjk" transform="translate(290.90 396.43) scale(.1)" font-size="32" fill="#2e2e2e" x="0 32 64" y="0">交换机</text></g>
<g role="img" aria-label="超大功率分离器"><title>超大功率分离器</title><text class="cjk" transform="translate(556.58 210.88) scale(.1)" font-size="44" fill="#3a3a3a" x="0 44 88 132 176 220 264" y="0">超大功率分离器</text></g>
<g role="img" aria-label="POE分离器"><title>POE分离器</title><text transform="translate(459.65 260.34) scale(.1)" font-size="43.0" fill="#555" x="0.0 28.7 62.1" y="0" xml:space="preserve">POE</text><text class="cjk" transform="translate(468.73 260.34) scale(.1)" font-size="43" fill="#3a3a3a" x="0 43 86" y="0">分离器</text></g>
<g role="img" aria-label="POE分离器"><title>POE分离器</title><text transform="translate(459.65 311.24) scale(.1)" font-size="43.0" fill="#555" x="0.0 28.7 62.1" y="0" xml:space="preserve">POE</text><text class="cjk" transform="translate(468.73 311.24) scale(.1)" font-size="43" fill="#3a3a3a" x="0 43 86" y="0">分离器</text></g>
<g role="img" aria-label="网络摄像机"><title>网络摄像机</title><text class="cjk" transform="translate(371.75 72.78) scale(.1)" font-size="54" font-weight="500" fill="#4a4a4a" x="0 54 108 162 216" y="0">网络摄像机</text></g>
<g role="img" aria-label="IP camera"><title>IP camera</title><text transform="translate(371.80 79.06) scale(.1)" font-size="54.0" fill="#757575" x="0.0 15.7 52.4 68.1 95.8 126.6 172.2 203.0 221.7" y="0" xml:space="preserve">IP camera</text></g>
<g role="img" aria-label="POE 无线AP"><title>POE 无线AP</title><text transform="translate(371.76 100.06) scale(.1)" font-size="54.0" fill="#757575" x="0.0 36.0 78.0 114.0" y="0" xml:space="preserve">POE </text><text class="cjk" transform="translate(384.66 100.06) scale(.1)" font-size="54" font-weight="500" fill="#4a4a4a" x="0 54" y="0">无线</text><text transform="translate(395.46 100.06) scale(.1)" font-size="54.0" fill="#757575" x="0.0 36.0" y="0" xml:space="preserve">AP</text></g>
<g role="img" aria-label="POE WIRELESS AP"><title>POE WIRELESS AP</title><text transform="translate(371.76 106.46) scale(.1)" font-size="54.0" fill="#757575" x="0.0 35.3 76.6 111.9 126.2 176.5 190.8 229.1 264.4 293.8 329.1 364.4 399.7 414.0 449.3" y="0" xml:space="preserve">POE WIRELESS AP</text></g>
<g role="img" aria-label="POE网络摄像机"><title>POE网络摄像机</title><text transform="translate(371.76 125.38) scale(.1)" font-size="54.0" fill="#757575" x="0.0 36.0 78.0" y="0" xml:space="preserve">POE</text><text class="cjk" transform="translate(383.16 125.38) scale(.1)" font-size="54" font-weight="500" fill="#4a4a4a" x="0 54 108 162 216" y="0">网络摄像机</text></g>
<g role="img" aria-label="POE IP camera"><title>POE IP camera</title><text transform="translate(371.76 131.66) scale(.1)" font-size="54.0" fill="#757575" x="0.0 36.7 79.4 116.1 131.8 147.5 184.3 200.0 227.7 258.4 304.1 334.8 353.5" y="0" xml:space="preserve">POE IP camera</text></g>
<g role="img" aria-label="网络摄像机"><title>网络摄像机</title><text class="cjk" transform="translate(591.65 155.68) scale(.1)" font-size="54" font-weight="500" fill="#4a4a4a" x="0 54 108 162 216" y="0">网络摄像机</text></g>
<g role="img" aria-label="IP camera"><title>IP camera</title><text transform="translate(591.70 162.16) scale(.1)" font-size="54.0" fill="#757575" x="0.0 15.7 52.4 68.1 95.8 126.6 172.2 203.0 221.7" y="0" xml:space="preserve">IP camera</text></g>
<g role="img" aria-label="网络一体化球机"><title>网络一体化球机</title><text class="cjk" transform="translate(664.55 200.69) scale(.1)" font-size="54" font-weight="500" fill="#4a4a4a" x="0 54 108 162 216 270 324" y="0">网络一体化球机</text></g>
<g role="img" aria-label="IP Dome Camera"><title>IP Dome Camera</title><text transform="translate(664.60 206.96) scale(.1)" font-size="54.0" fill="#757575" x="0.0 15.5 52.0 67.5 107.0 137.6 183.0 213.6 229.1 268.6 299.1 344.6 375.1 393.6" y="0" xml:space="preserve">IP Dome Camera</text></g>
<g role="img" aria-label="POE 无线AP"><title>POE 无线AP</title><text transform="translate(371.76 230.46) scale(.1)" font-size="54.0" fill="#757575" x="0.0 36.0 78.0 114.0" y="0" xml:space="preserve">POE </text><text class="cjk" transform="translate(384.66 230.46) scale(.1)" font-size="54" font-weight="500" fill="#4a4a4a" x="0 54" y="0">无线</text><text transform="translate(395.46 230.46) scale(.1)" font-size="54.0" fill="#757575" x="0.0 36.0" y="0" xml:space="preserve">AP</text></g>
<g role="img" aria-label="POE WIRELESS AP"><title>POE WIRELESS AP</title><text transform="translate(371.76 236.96) scale(.1)" font-size="54.0" fill="#757575" x="0.0 35.3 76.6 111.9 126.2 176.5 190.8 229.1 264.4 293.8 329.1 364.4 399.7 414.0 449.3" y="0" xml:space="preserve">POE WIRELESS AP</text></g>
<g role="img" aria-label="POE网络摄像机"><title>POE网络摄像机</title><text transform="translate(371.76 253.98) scale(.1)" font-size="54.0" fill="#757575" x="0.0 36.0 78.0" y="0" xml:space="preserve">POE</text><text class="cjk" transform="translate(383.16 253.98) scale(.1)" font-size="54" font-weight="500" fill="#4a4a4a" x="0 54 108 162 216" y="0">网络摄像机</text></g>
<g role="img" aria-label="POE IP camera"><title>POE IP camera</title><text transform="translate(371.76 260.46) scale(.1)" font-size="54.0" fill="#757575" x="0.0 36.7 79.4 116.1 131.8 147.5 184.3 200.0 227.7 258.4 304.1 334.8 353.5" y="0" xml:space="preserve">POE IP camera</text></g>
<g role="img" aria-label="网络一体化球机"><title>网络一体化球机</title><text class="cjk" transform="translate(545.75 248.39) scale(.1)" font-size="54" font-weight="500" fill="#4a4a4a" x="0 54 108 162 216 270 324" y="0">网络一体化球机</text></g>
<g role="img" aria-label="IP Dome Camera"><title>IP Dome Camera</title><text transform="translate(545.80 254.76) scale(.1)" font-size="54.0" fill="#757575" x="0.0 15.5 52.0 67.5 107.0 137.6 183.0 213.6 229.1 268.6 299.1 344.6 375.1 393.6" y="0" xml:space="preserve">IP Dome Camera</text></g>
<g role="img" aria-label="POE无线AP"><title>POE无线AP</title><text transform="translate(545.76 297.16) scale(.1)" font-size="54.0" fill="#757575" x="0.0 36.0 78.0" y="0" xml:space="preserve">POE</text><text class="cjk" transform="translate(557.16 297.16) scale(.1)" font-size="54" font-weight="500" fill="#4a4a4a" x="0 54" y="0">无线</text><text transform="translate(567.96 297.16) scale(.1)" font-size="54.0" fill="#757575" x="0.0 36.0" y="0" xml:space="preserve">AP</text></g>
<g role="img" aria-label="POE Wireless AP"><title>POE Wireless AP</title><text transform="translate(545.76 303.56) scale(.1)" font-size="54.0" fill="#757575" x="0.0 36.0 78.0 114.0 129.0 180.0 192.0 210.0 240.0 252.0 282.0 309.0 336.0 351.1 387.1" y="0" xml:space="preserve">POE Wireless AP</text></g>
<g role="img" aria-label="POE网络摄像机"><title>POE网络摄像机</title><text transform="translate(371.76 360.48) scale(.1)" font-size="54.0" fill="#757575" x="0.0 36.0 78.0" y="0" xml:space="preserve">POE</text><text class="cjk" transform="translate(383.16 360.48) scale(.1)" font-size="54" font-weight="500" fill="#4a4a4a" x="0 54 108 162 216" y="0">网络摄像机</text></g>
<g role="img" aria-label="POE IP camera"><title>POE IP camera</title><text transform="translate(371.76 366.76) scale(.1)" font-size="54.0" fill="#757575" x="0.0 36.7 79.4 116.1 131.8 147.5 184.3 200.0 227.7 258.4 304.1 334.8 353.5" y="0" xml:space="preserve">POE IP camera</text></g>
</svg>
</body>
</html>
